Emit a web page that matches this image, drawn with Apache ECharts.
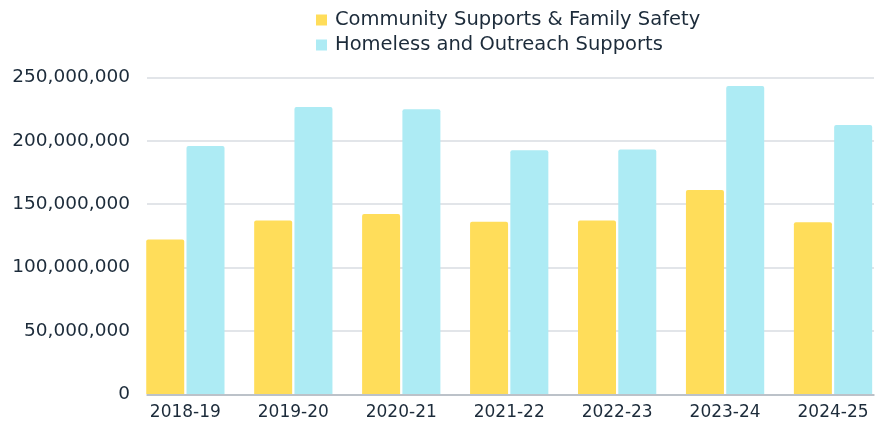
<!DOCTYPE html>
<html>
<head>
<meta charset="utf-8">
<script src="https://cdn.jsdelivr.net/npm/echarts@6/dist/echarts.min.js"></script>
<style>
  html, body { margin: 0; padding: 0; background: #ffffff; }
  #chart { width: 887px; height: 421px; }
</style>
</head>
<body>
<div id="chart"></div>
<script>
// Fiscal years and funding per program area
const years = ['2018-19', '2019-20', '2020-21', '2021-22', '2022-23', '2023-24', '2024-25'];
const communitySupports = [122000000, 137000000, 142000000, 136000000, 137000000, 161000000, 135500000];
const homelessOutreach = [195800000, 226600000, 224800000, 192400000, 193000000, 243100000, 212400000];
const seriesNames = ['Community Supports & Family Safety', 'Homeless and Outreach Supports'];
const yTicks = [0, 50000000, 100000000, 150000000, 200000000, 250000000];

const textColor = '#1c2b3a';
const fontFamily = '"DejaVu Sans", sans-serif';
const fmt = v => Math.round(v).toString().replace(/\B(?=(\d{3})+(?!\d))/g, ',');

const chart = echarts.init(document.getElementById('chart'), null, { renderer: 'canvas' });

chart.setOption({
  animation: false,
  textStyle: { fontFamily: fontFamily, color: textColor },
  legend: {
    orient: 'vertical',
    left: 311,
    top: 5,
    itemWidth: 11,
    itemHeight: 11,
    itemGap: 5,
    icon: 'rect',
    textStyle: { fontSize: 19.5, color: textColor, fontFamily: fontFamily, padding: [0, 0, 0, 3] },
    data: seriesNames
  },
  grid: [
    // frame with the value scale, grid lines and baseline
    { left: 147, right: 13, top: 77.3, bottom: 26.7, containLabel: false },
    // band layout for the bar groups
    { left: 131.4, width: 757.75, top: 77.3, bottom: 26.7, containLabel: false }
  ],
  xAxis: [
    {
      gridIndex: 0,
      type: 'category',
      data: years,
      axisLine: { show: true, lineStyle: { color: '#b0b7bf', width: 1.5 } },
      axisTick: { show: false },
      axisLabel: { show: false },
      splitLine: { show: false }
    },
    {
      gridIndex: 1,
      type: 'category',
      data: years,
      axisLine: { show: false },
      axisTick: { show: false },
      axisLabel: { show: true, fontSize: 17, color: textColor, fontFamily: fontFamily, margin: 10 },
      splitLine: { show: false }
    }
  ],
  yAxis: [
    {
      gridIndex: 0,
      type: 'value',
      min: yTicks[0],
      max: yTicks[yTicks.length - 1],
      interval: yTicks[1] - yTicks[0],
      axisLine: { show: false },
      axisTick: { show: false },
      axisLabel: { fontSize: 18.5, color: textColor, fontFamily: fontFamily, margin: 17, formatter: fmt },
      splitLine: { show: true, lineStyle: { color: '#d8dde2', width: 1.5 } }
    },
    {
      gridIndex: 1,
      type: 'value',
      min: yTicks[0],
      max: yTicks[yTicks.length - 1],
      interval: yTicks[1] - yTicks[0],
      show: false,
      splitLine: { show: false }
    }
  ],
  series: [
    {
      name: seriesNames[0],
      type: 'bar',
      xAxisIndex: 1,
      yAxisIndex: 1,
      data: communitySupports,
      barWidth: 38,
      barGap: '6%',
      itemStyle: { color: '#ffdd5a', borderRadius: [2, 2, 0, 0] }
    },
    {
      name: seriesNames[1],
      type: 'bar',
      xAxisIndex: 1,
      yAxisIndex: 1,
      data: homelessOutreach,
      barWidth: 38,
      barGap: '6%',
      itemStyle: { color: '#adebf4', borderRadius: [2, 2, 0, 0] }
    }
  ]
});
</script>
</body>
</html>
